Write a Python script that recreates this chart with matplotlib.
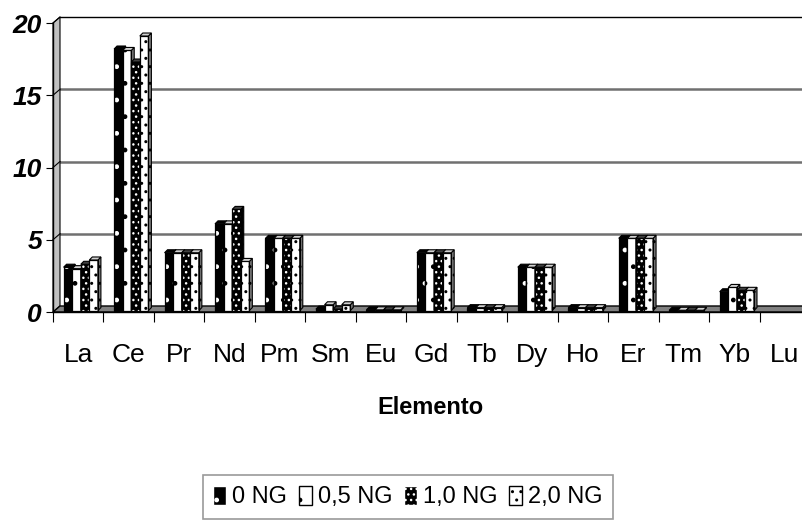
import matplotlib
matplotlib.use("Agg")
import matplotlib.pyplot as plt
from matplotlib.patches import Polygon, Patch

elements = ['La', 'Ce', 'Pr', 'Nd', 'Pm', 'Sm', 'Eu', 'Gd', 'Tb', 'Dy', 'Ho', 'Er', 'Tm', 'Yb', 'Lu']
ng_0 = [3.0, 18.1, 4.0, 6.0, 5.0, 0.1, 0.05, 4.0, 0.2, 3.0, 0.2, 5.0, 0.02, 1.3, 0]
ng_05 = [2.9, 18.0, 4.0, 6.0, 5.0, 0.4, 0.05, 4.0, 0.2, 3.0, 0.2, 5.0, 0.02, 1.6, 0]
ng_10 = [3.2, 17.2, 4.0, 7.0, 5.0, 0.1, 0.05, 4.0, 0.2, 3.0, 0.2, 5.0, 0.02, 1.4, 0]
ng_20 = [3.5, 19.0, 4.0, 3.4, 5.0, 0.4, 0.05, 4.0, 0.2, 3.0, 0.2, 5.0, 0.02, 1.4, 0]
series_names = ['0 NG', '0,5 NG', '1,0 NG', '2,0 NG']
y_ticks = [0, 5, 10, 15, 20]

plt.rcParams['font.family'] = ['Liberation Sans', 'DejaVu Sans']
plt.rcParams['hatch.linewidth'] = 1.0

# face colour, hatch, hatch colour, side colour, top colour
styles = [
    ('black', '.', 'white', 'black', 'black'),
    ('white', '.', 'black', '#808080', '#d0d0d0'),
    ('black', '...', 'white', 'black', '#404040'),
    ('white', '..', 'black', '#808080', '#d0d0d0'),
]

fig = plt.figure(figsize=(8.03, 5.21), dpi=100)
ax = fig.add_axes([53 / 803, (521 - 312) / 521, 757 / 803, 289 / 521])
ax.set_xlim(-0.5, 14.5)
ax.set_ylim(0, 20)

# depth of the back wall and of each bar, in data units
wx, wy = 7 / 50.5, 6 / 14.45
bx, by = 3 / 50.5, 3 / 14.45
x0 = -0.5
x1 = 14.6

# left wall and floor
ax.add_patch(Polygon([(x0, 0), (x0 + wx, wy), (x0 + wx, 20 + wy), (x0, 20)],
                     closed=True, facecolor='#c0c0c0', edgecolor='black', lw=0.8, clip_on=False, zorder=1))
ax.add_patch(Polygon([(x0, 0), (x1, 0), (x1 + wx, wy), (x0 + wx, wy)],
                     closed=True, facecolor='#808080', edgecolor='black', lw=1.0, clip_on=False, zorder=1))

# back wall grid
for v in y_ticks[1:-1]:
    ax.plot([x0 + wx, x1 + 1], [v + wy, v + wy], color='#707070', lw=1.8, zorder=0.5, clip_on=False)
    ax.plot([x0, x0 + wx], [v, v + wy], color='black', lw=0.8, zorder=1.2, clip_on=False)
ax.plot([x0 + wx, x1 + 1], [20 + wy, 20 + wy], color='black', lw=1.0, zorder=0.5, clip_on=False)
ax.plot([x0, x0 + wx], [20, 20 + wy], color='black', lw=0.8, zorder=1.2, clip_on=False)

all_series = [ng_0, ng_05, ng_10, ng_20]
w = 0.17
start = -0.32
for k, vals in enumerate(all_series):
    face, hatch, hcol, side, top = styles[k]
    for i, h in enumerate(vals):
        if h <= 0:
            continue
        left = i + start + k * w + 0.03
        right = left + w
        base = 0.1
        z = 2 + k * 0.1
        ax.bar(left, h, width=w, bottom=base, align='edge', color=face,
               hatch=hatch, edgecolor=hcol, lw=0, zorder=z)
        ax.bar(left, h, width=w, bottom=base, align='edge', fill=False,
               edgecolor='black', lw=0.9, zorder=z + 0.01)
        t = base + h
        ax.add_patch(Polygon([(left, t), (right, t), (right + bx, t + by), (left + bx, t + by)],
                             closed=True, facecolor=top, edgecolor='black', lw=0.8, zorder=z + 0.01))
        ax.add_patch(Polygon([(right, base), (right + bx, base + by), (right + bx, t + by), (right, t)],
                             closed=True, facecolor=side, hatch=hatch, edgecolor='black', lw=0.8, zorder=z))

for s in ['top', 'right']:
    ax.spines[s].set_visible(False)
ax.spines['left'].set_linewidth(1.0)
ax.spines['bottom'].set_linewidth(1.0)
ax.spines['left'].set_zorder(5)
ax.spines['bottom'].set_zorder(5)
ax.patch.set_visible(False)

ax.set_yticks(y_ticks)
ax.set_yticklabels([str(v) for v in y_ticks], fontsize=19, fontweight='bold', style='italic')
ax.tick_params(axis='y', length=5, width=0.8, pad=3)

ax.set_xticks(range(len(elements)))
ax.set_xticklabels(elements, fontsize=19)
ax.set_xticks([i - 0.5 for i in range(len(elements) + 1)], minor=True)
ax.tick_params(axis='x', which='major', length=0, pad=22)
ax.tick_params(axis='x', which='minor', length=7, width=0.8, direction='out')

fig.text(430 / 803, 1 - 408 / 521, 'Elemento', ha='center', va='center', fontsize=17, fontweight='bold')

handles = [Patch(facecolor=s[0], hatch=s[1], edgecolor=s[2] if s[0] == 'black' else 'black') for s in styles]
leg = fig.legend(handles, series_names, loc='center', bbox_to_anchor=(408 / 803, 1 - 497 / 521),
                 ncol=4, fontsize=17, frameon=True, fancybox=False, handlelength=0.55, handleheight=0.85,
                 handletextpad=0.25, columnspacing=0.5, borderpad=0.45)
leg.get_frame().set_edgecolor('#808080')
leg.get_frame().set_linewidth(1.2)

fig.savefig('out.png', dpi=100)
